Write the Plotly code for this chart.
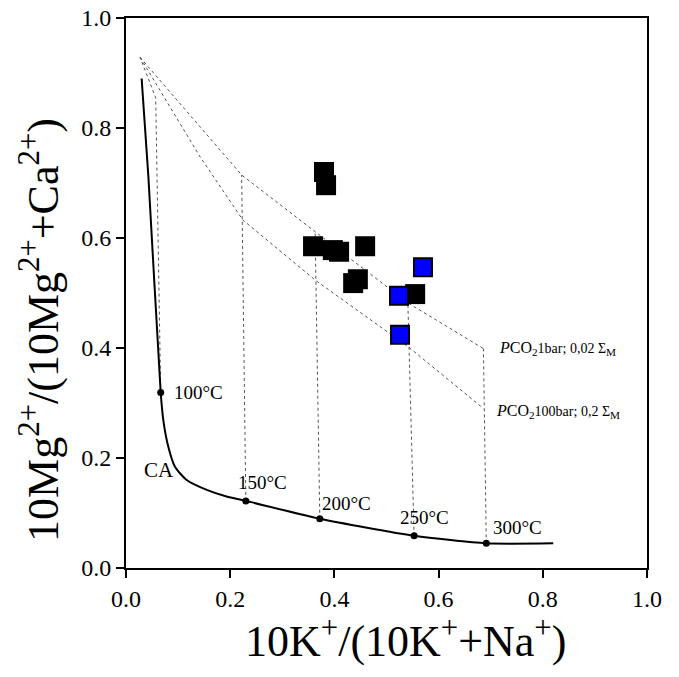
import plotly.graph_objects as go

# ---- data ----
ca_x = [0.030, 0.043, 0.0666, 0.0716, 0.0812, 0.094, 0.1165, 0.155, 0.193, 0.230, 0.372, 0.553, 0.6916, 0.820]
ca_y = [0.890, 0.711, 0.319, 0.269, 0.2205, 0.184, 0.160, 0.142, 0.130, 0.122, 0.0896, 0.0587, 0.0449, 0.0449]

temp_labels = ["100°C", "150°C", "200°C", "250°C", "300°C"]
temp_x = [0.0666, 0.230, 0.372, 0.553, 0.6916]
temp_y = [0.319, 0.122, 0.0896, 0.0587, 0.0449]

# top ends of the temperature tie lines
tie_top_x = [0.057, 0.222, 0.363, 0.541, 0.686]
tie_top_y = [0.855, 0.7145, 0.6115, 0.482, 0.399]

apex_x = [0.027]
apex_y = [0.9285]

pco2_1bar_x = [0.027, 0.222, 0.363, 0.541, 0.686]
pco2_1bar_y = [0.9285, 0.7145, 0.6115, 0.482, 0.399]

pco2_100bar_x = [0.027, 0.142, 0.224, 0.363, 0.542, 0.686]
pco2_100bar_y = [0.9285, 0.748, 0.633, 0.5236, 0.402, 0.290]

black_x = [0.380, 0.384, 0.359, 0.397, 0.409, 0.459, 0.436, 0.445, 0.555]
black_y = [0.720, 0.696, 0.585, 0.578, 0.575, 0.585, 0.518, 0.525, 0.498]

blue_x = [0.570, 0.524, 0.526]
blue_y = [0.547, 0.495, 0.424]

FONT = "Liberation Serif, Times New Roman, serif"
DASH = dict(color="#555555", width=1, dash="3px,3px")

fig = go.Figure()

# dashed PCO2 curves
fig.add_trace(go.Scatter(x=pco2_1bar_x, y=pco2_1bar_y, mode="lines", line=DASH, hoverinfo="skip"))
fig.add_trace(go.Scatter(x=pco2_100bar_x, y=pco2_100bar_y, mode="lines", line=DASH, hoverinfo="skip"))

# tie lines from CA points up to the 1 bar curve
for i in range(len(temp_x)):
    xs = [temp_x[i], tie_top_x[i]]
    ys = [temp_y[i], tie_top_y[i]]
    if i == 0:
        xs = xs + apex_x
        ys = ys + apex_y
    fig.add_trace(go.Scatter(x=xs, y=ys, mode="lines", line=DASH, hoverinfo="skip"))

# CA curve
fig.add_trace(go.Scatter(x=ca_x, y=ca_y, mode="lines",
                         line=dict(color="black", width=2, shape="spline", smoothing=0.6), hoverinfo="skip"))
fig.add_trace(go.Scatter(x=temp_x, y=temp_y, mode="markers", marker=dict(color="black", size=7)))

# samples
fig.add_trace(go.Scatter(x=black_x, y=black_y, mode="markers",
                         marker=dict(symbol="square", color="black", size=20, line=dict(color="black", width=0))))
fig.add_trace(go.Scatter(x=blue_x, y=blue_y, mode="markers",
                         marker=dict(symbol="square", color="#0000FF", size=18, line=dict(color="black", width=2))))

# temperature labels
lab_pos = [(0.088, 0.320, "left"), (0.262, 0.155, "center"), (0.372, 0.117, "left"),
           (0.5226, 0.092, "left"), (0.7006, 0.0745, "left")]
for (lx, ly, anc), t in zip(lab_pos, temp_labels):
    fig.add_annotation(x=lx, y=ly, text=t, showarrow=False, xanchor=anc, yanchor="middle",
                       font=dict(family=FONT, size=19, color="black"))

fig.add_annotation(x=0.030, y=0.178, text="CA", showarrow=False, xanchor="left", yanchor="middle",
                   font=dict(family=FONT, size=21, color="black"))

fig.add_annotation(x=0.712, y=0.3995, xanchor="left", yanchor="middle", showarrow=False,
                   text="<i>P</i>CO<sub>2</sub><span style='font-size:14px'>1bar; 0,02 Σ</span><sub>M</sub>",
                   font=dict(family=FONT, size=16, color="black"))
fig.add_annotation(x=0.706, y=0.285, xanchor="left", yanchor="middle", showarrow=False,
                   text="<i>P</i>CO<sub>2</sub><span style='font-size:14px'>100bar; 0,2 Σ</span><sub>M</sub>",
                   font=dict(family=FONT, size=16, color="black"))

# axis titles
fig.add_annotation(xref="paper", yref="paper", x=0.537, y=-0.128, xanchor="center", yanchor="middle",
                   showarrow=False,
                   text="10K<sup>+</sup>/(10K<sup>+</sup>+Na<sup>+</sup>)",
                   font=dict(family=FONT, size=44, color="black"))
fig.add_annotation(xref="paper", yref="paper", x=-0.165, y=0.433, xanchor="center", yanchor="middle",
                   showarrow=False, textangle=-90,
                   text="10Mg<sup>2+</sup>/(10Mg<sup>2+</sup>+Ca<sup>2+</sup>)",
                   font=dict(family=FONT, size=44, color="black"))

axis_common = dict(showgrid=False, zeroline=False, showline=True, linecolor="black", linewidth=2,
                   mirror=True, ticks="outside", ticklen=8, tickwidth=1.5, tickcolor="black",
                   tickfont=dict(family=FONT, size=24, color="black"), tickformat=".1f", dtick=0.2,
                   automargin=False, ticklabeloverflow="allow")

fig.update_xaxes(range=[0, 1], **axis_common)
fig.update_yaxes(range=[0, 1], **axis_common)

fig.update_layout(width=679, height=677, showlegend=False,
                  margin=dict(l=118, r=40, t=10, b=117),
                  plot_bgcolor="white", paper_bgcolor="white")

fig.write_html("out.html")
